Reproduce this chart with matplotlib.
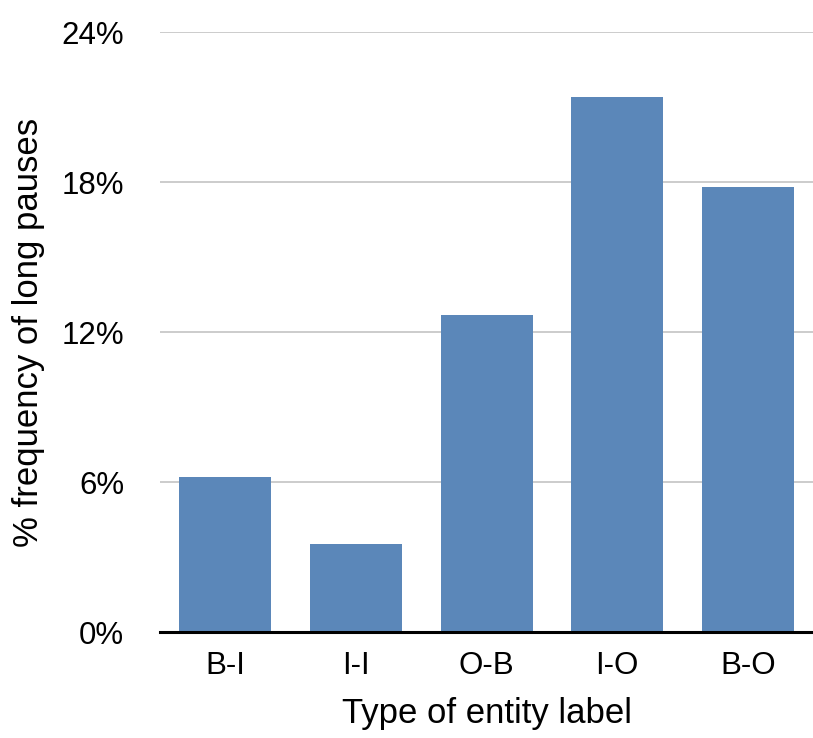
import matplotlib.pyplot as plt
from matplotlib.ticker import FuncFormatter

categories = ['B-I', 'I-I', 'O-B', 'I-O', 'B-O']
values = [6.22, 3.54, 12.7, 21.4, 17.8]
y_ticks = [0, 6, 12, 18, 24]

plt.rcParams['font.family'] = ['Liberation Sans', 'DejaVu Sans']

fig = plt.figure(figsize=(8.13, 7.38), dpi=100)
ax = fig.add_axes([0.197, 0.143, 0.803, 0.813])

x = range(len(categories))
ax.bar(x, values, width=0.705, color='#5b87b9', zorder=2)

ax.set_xlim(-0.5, len(categories) - 0.5)
ax.set_ylim(0, 24)
ax.set_yticks(y_ticks)
ax.yaxis.set_major_formatter(FuncFormatter(lambda v, p: f'{int(v)}%'))
ax.set_xticks(list(x))
ax.set_xticklabels(categories)

ax.grid(axis='y', color='#c4c4c4', linewidth=1.2, zorder=0)
for s in ['top', 'right', 'left']:
    ax.spines[s].set_visible(False)
ax.spines['bottom'].set_linewidth(2.2)
ax.spines['bottom'].set_zorder(3)

ax.tick_params(axis='both', length=0, labelsize=22.5)
ax.tick_params(axis='y', pad=26)
ax.tick_params(axis='x', pad=13)

ax.set_xlabel('Type of entity label', fontsize=25, labelpad=12)
ax.set_ylabel('% frequency of long pauses', fontsize=25, labelpad=12)

fig.savefig('out.png', dpi=100)
